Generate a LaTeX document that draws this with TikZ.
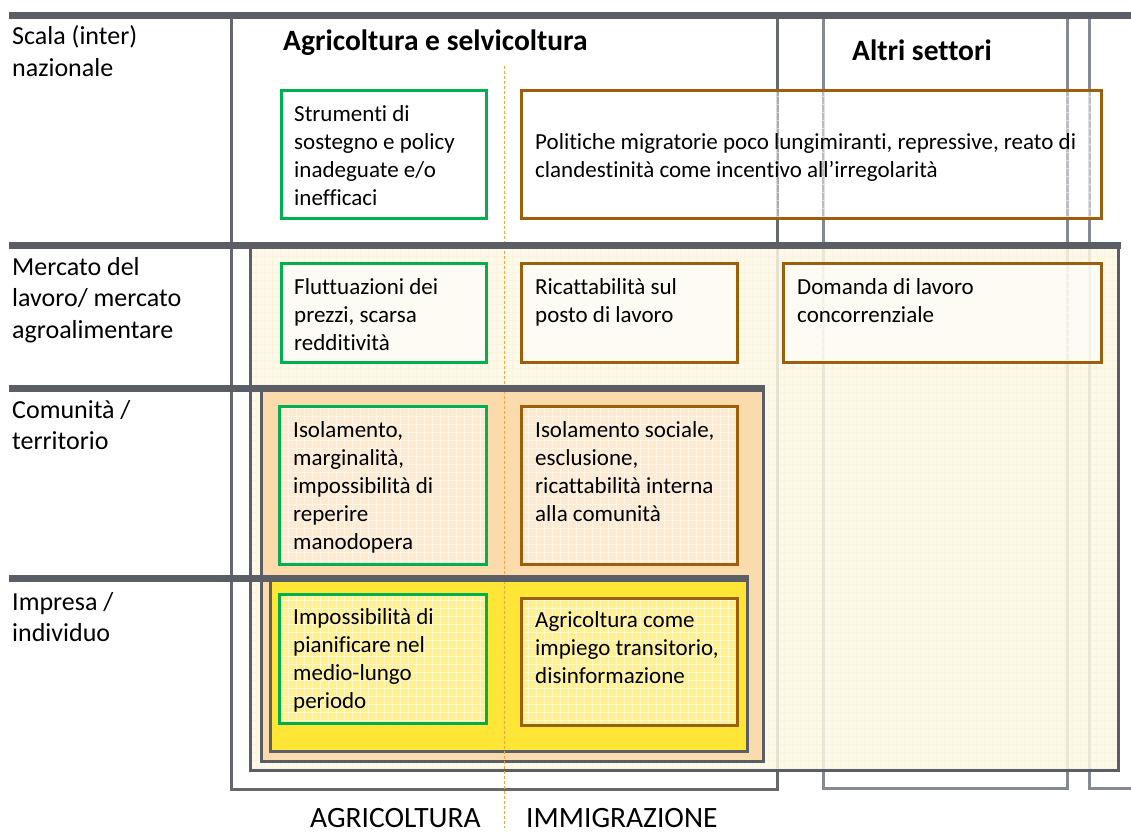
\documentclass[tikz,border=0pt]{standalone}
\usepackage{fontspec}
\setmainfont{Carlito}[Ligatures={NoCommon}]
\usetikzlibrary{calc}
\definecolor{darkline}{HTML}{5B5E64}
\definecolor{frameA}{HTML}{65696F}
\definecolor{frameB}{HTML}{858A92}
\definecolor{greenb}{HTML}{00B050}
\definecolor{brownb}{HTML}{9C5F0C}
\definecolor{creamfill}{HTML}{FDF8E6}
\definecolor{creamgrid}{HTML}{F6EBC4}
\definecolor{peachfill}{HTML}{FBDAAC}
\definecolor{yellowfill}{HTML}{FFE535}
\definecolor{dashorange}{HTML}{F5A540}
\tikzset{
  thickrule/.style={draw=darkline, line width=7pt},
  frameone/.style={draw=frameA, line width=3pt},
  frametwo/.style={draw=frameB, line width=3pt},
  layerbox/.style={draw=darkline, line width=3pt},
  gridlines/.style={path picture={\draw[white, opacity=.55, line width=.6pt, step=8pt]
     (path picture bounding box.south west) grid (path picture bounding box.north east);}},
  innerbox/.style={line width=3pt, fill=white, fill opacity=.45, gridlines},
  gbox/.style={innerbox, draw=greenb},
  bbox/.style={innerbox, draw=brownb},
  boxtext/.style={anchor=base west, inner sep=0pt, align=left, font=\fontsize{23}{28}\selectfont, text=black},
  sidetext/.style={anchor=base west, inner sep=0pt, align=left, font=\fontsize{26}{31.7}\selectfont, text=black},
  titletext/.style={anchor=base west, inner sep=0pt, font=\fontsize{29.5}{35}\selectfont\bfseries, text=black},
  foottext/.style={anchor=base west, inner sep=0pt, font=\fontsize{29.5}{35}\selectfont, text=black},
  divider/.style={draw=dashorange, line width=1pt, dash pattern=on 3pt off 2pt}
}
\begin{document}
\begin{tikzpicture}[x=1pt,y=-1pt]
\useasboundingbox[fill=white] (0,0) rectangle (1131,834);
% outer frames
\draw[frameone] (231,16) -- (231,789) -- (777,789) -- (777,16);
\draw[frametwo] (823,16) -- (823,788) -- (1067,788) -- (1067,16);
\draw[frametwo] (1089,16) -- (1089,788) -- (1131,788);
% layer fills
\fill[creamfill, opacity=.84] (250,245) rectangle (1118,770);
\path[path picture={\draw[creamgrid, opacity=.35, line width=.5pt, step=8pt]
     (path picture bounding box.south west) grid (path picture bounding box.north east);}]
     (250,245) rectangle (1118,770);
\draw[layerbox] (250,245) rectangle (1118,770);
\draw[layerbox, fill=peachfill] (261,388) rectangle (763,761);
\draw[layerbox, fill=yellowfill] (270,578) rectangle (747,751);
% divider
\coordinate (dtop) at (504,66);
\coordinate (dbot) at (504,828);
\draw[divider] (dtop) -- (dbot);
% thick rules
\draw[thickrule] (9,16) -- (1131,16);
\draw[thickrule] (9,245) -- (1121,245);
\draw[thickrule] (9,388) -- (765,388);
\draw[thickrule] (9,578) -- (749,578);
% inner boxes
\draw[gbox] (281,91) coordinate (g1) rectangle (486,219);
\draw[bbox] (521,91) coordinate (b1) rectangle (1101,219);
\draw[gbox] (281,263) coordinate (g2) rectangle (486,362);
\draw[bbox] (521,263) coordinate (b2) rectangle (737,362);
\draw[bbox] (783,263) coordinate (b3) rectangle (1101,362);
\draw[gbox] (279,406) coordinate (g3) rectangle (486,564);
\draw[bbox] (521,406) coordinate (b4) rectangle (737,564);
\draw[gbox] (279,594) coordinate (g4) rectangle (486,723);
\draw[bbox] (521,598) coordinate (b5) rectangle (737,725);
% box texts (anchor = baseline of last line)
\node[boxtext] (tg1) at ($(g1)+(13,115)$) {Strumenti di\\sostegno e policy\\inadeguate e/o\\inefficaci};
\node[boxtext] (tb1) at ($(b1)+(14,87)$) {Politiche migratorie poco lungimiranti, repressive, reato di\\clandestinità come incentivo all’irregolarità};
\node[boxtext] (tg2) at ($(g2)+(13,87)$) {Fluttuazioni dei\\prezzi, scarsa\\redditività};
\node[boxtext] (tb2) at ($(b2)+(14,59)$) {Ricattabilità sul\\posto di lavoro};
\node[boxtext] (tb3) at ($(b3)+(14,59)$) {Domanda di lavoro\\concorrenziale};
\node[boxtext] (tg3) at ($(g3)+(14,143)$) {Isolamento,\\marginalità,\\impossibilità di\\reperire\\manodopera};
\node[boxtext] (tb4) at ($(b4)+(14,115)$) {Isolamento sociale,\\esclusione,\\ricattabilità interna\\alla comunità};
\node[boxtext] (tg4) at ($(g4)+(14,114)$) {Impossibilità di\\pianificare nel\\medio-lungo\\periodo};
\node[boxtext] (tb5) at ($(b5)+(14,85)$) {Agricoltura come\\impiego transitorio,\\disinformazione};
% side labels
\node[sidetext] (s1) at (12,76.7) {Scala (inter)\\nazionale};
\node[sidetext] (s2) at (12,338.4) {Mercato del\\lavoro/ mercato\\agroalimentare};
\node[sidetext] (s3) at (12,449.7) {Comunità /\\territorio};
\node[sidetext] (s4) at (12,641.7) {Impresa /\\individuo};
% titles
\node[titletext] (h1) at (283,51) {Agricoltura e selvicoltura};
\node[titletext] (h2) at (852,61) {Altri settori};
\node[foottext] (f1) at (310,827) {AGRICOLTURA};
\node[foottext] (f2) at (526,827) {IMMIGRAZIONE};
\end{tikzpicture}
\end{document}
